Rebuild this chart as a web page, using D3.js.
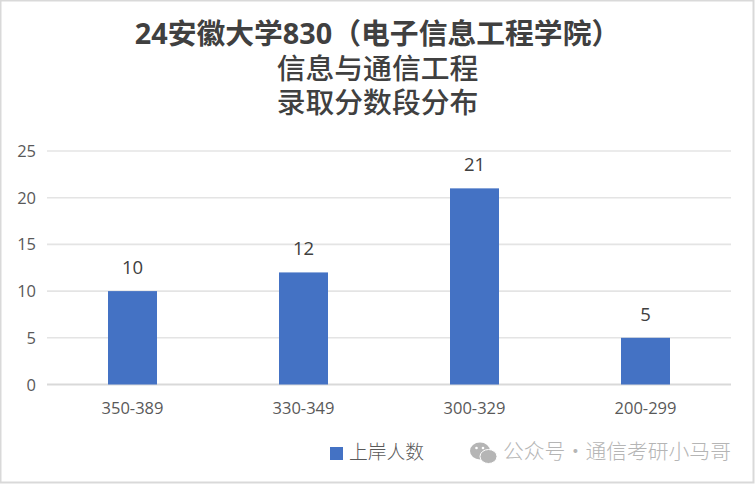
<!DOCTYPE html>
<html><head><meta charset="utf-8">
<script src="https://cdn.jsdelivr.net/npm/d3@7/dist/d3.min.js"></script>
<style>html,body{margin:0;padding:0;background:#fff}svg{display:block}
text{font-family:"Open Sans","Noto Sans CJK SC",sans-serif}
.cjk{font-family:"Noto Sans CJK SC","Noto Sans",sans-serif}</style>
</head><body><div id="c"></div>
<script>
const categories=["350-389","330-349","300-329","200-299"];
const values=[10,12,21,5];
const yTicks=[0,5,10,15,20,25];
const titleLines=["24安徽大学830（电子信息工程学院）","信息与通信工程","录取分数段分布"];
const seriesName="上岸人数";
const watermark="公众号 · 通信考研小马哥";

const W=755,H=484;
const svg=d3.select("#c").append("svg").attr("width",W).attr("height",H);
svg.append("rect").attr("x",0.5).attr("y",0.5).attr("width",W-2).attr("height",H-2)
  .attr("fill","#fff").attr("stroke","#d9d9d9").attr("stroke-width",2);

const x=d3.scaleBand().domain(categories).range([47,731]).paddingInner(0).paddingOuter(0);
const y=d3.scaleLinear().domain([0,25]).range([384.5,151]);
const barW=49;

const grid=svg.append("g");
grid.selectAll("line").data(yTicks).join("line")
  .attr("x1",47).attr("x2",731)
  .attr("y1",d=>y(d)).attr("y2",d=>y(d))
  .attr("stroke",d=>d===0?"#d9d9d9":"#e4e4e4").attr("stroke-width",d=>d===0?1.8:1.6);

svg.append("g").selectAll("text").data(yTicks).join("text")
  .attr("x",36).attr("y",d=>y(d)+6).attr("text-anchor","end")
  .attr("font-size",16.5).attr("fill","#595959").text(d=>d);

svg.append("g").selectAll("rect").data(values).join("rect")
  .attr("x",(d,i)=>x(categories[i])+x.bandwidth()/2-barW/2)
  .attr("width",barW)
  .attr("y",d=>y(d)).attr("height",d=>y(0)-y(d))
  .attr("fill","#4472c4");

svg.append("g").selectAll("text").data(values).join("text")
  .attr("x",(d,i)=>x(categories[i])+x.bandwidth()/2)
  .attr("y",d=>y(d)-17).attr("text-anchor","middle")
  .attr("font-size",18.5).attr("fill","#404040").text(d=>d);

svg.append("g").selectAll("text").data(categories).join("text")
  .attr("x",d=>x(d)+x.bandwidth()/2).attr("y",414).attr("text-anchor","middle")
  .attr("font-size",16.5).attr("fill","#595959").text(d=>d);

svg.append("g").selectAll("text").data(titleLines).join("text")
  .attr("x",377.5).attr("y",(d,i)=>44+i*34.5).attr("text-anchor","middle")
  .attr("font-size",28.8).attr("font-weight",(d,i)=>i===0?700:500).attr("fill","#404040").text(d=>d);

svg.append("rect").attr("x",330).attr("y",447).attr("width",13).attr("height",13).attr("fill","#4472c4");
svg.append("text").attr("class","cjk").attr("x",349).attr("y",459).attr("font-size",18.8).attr("font-weight",300).attr("fill","#595959").text(seriesName);

const wm=svg.append("g").attr("fill","#b5b5b5");
wm.append("ellipse").attr("cx",480).attr("cy",451).attr("rx",10).attr("ry",8.5);
wm.append("ellipse").attr("cx",488.5).attr("cy",456.5).attr("rx",8.5).attr("ry",7).attr("stroke","#fff").attr("stroke-width",1);
wm.append("g").attr("fill","#fff").selectAll("circle").data([[476.5,448],[483,448]]).join("circle")
  .attr("cx",d=>d[0]).attr("cy",d=>d[1]).attr("r",1.3);
svg.append("text").attr("class","cjk").attr("x",503).attr("y",459).attr("font-size",20.8).attr("font-weight",300).attr("word-spacing",-5).attr("fill","#b5b5b5").text(watermark);
</script></body></html>
